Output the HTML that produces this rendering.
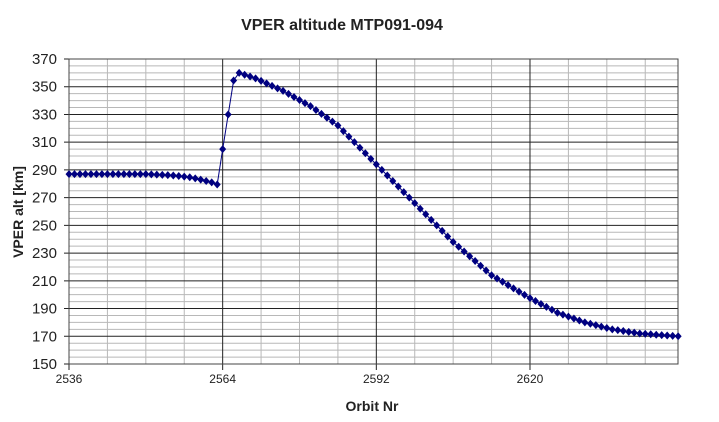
<!DOCTYPE html>
<html><head><meta charset="utf-8"><style>
html,body{margin:0;padding:0;background:#fff;width:719px;height:422px;overflow:hidden}
svg text{font-family:"Liberation Sans",Arial,sans-serif;fill:#222}
</style></head><body>
<svg id="s" width="719" height="422" xmlns="http://www.w3.org/2000/svg">
<text x="342" y="30" text-anchor="middle" font-size="16" font-weight="bold">VPER altitude MTP091-094</text>
<text x="372" y="411" text-anchor="middle" font-size="14" font-weight="bold">Orbit Nr</text>
<text transform="translate(23,212) rotate(-90)" text-anchor="middle" font-size="14" font-weight="bold">VPER alt [km]</text>
<g id="g"></g>
</svg>
<script>
var L=69,R=678,T=59,B=364;
function X(o){return L+(o-2536)*5.488;}
function Y(v){return T+(370-v)*(B-T)/220;}
var h='';
for(var v=150;v<=370;v+=5){var maj=(v-150)%20==0;
 if(!maj)h+='<line x1="'+L+'" x2="'+R+'" y1="'+Y(v)+'" y2="'+Y(v)+'" stroke="#b8b8b8" stroke-width="1"/>';}
for(var o=2543;o<2647;o+=7){if((o-2536)%28)h+='<line x1="'+X(o)+'" x2="'+X(o)+'" y1="'+T+'" y2="'+B+'" stroke="#b8b8b8" stroke-width="1"/>';}
for(var v=150;v<=370;v+=20){h+='<line x1="'+(L-5)+'" x2="'+R+'" y1="'+Y(v)+'" y2="'+Y(v)+'" stroke="#222" stroke-width="1"/>';
 h+='<text x="57" y="'+(Y(v)+5)+'" text-anchor="end" font-size="15">'+v+'</text>';}
for(var o=2536;o<2647;o+=28){h+='<line x1="'+X(o)+'" x2="'+X(o)+'" y1="'+T+'" y2="'+(B+6)+'" stroke="#222" stroke-width="1"/>';
 h+='<text x="'+X(o)+'" y="383" text-anchor="middle" font-size="12">'+o+'</text>';}
h+='<rect x="'+L+'" y="'+T+'" width="'+(R-L)+'" height="'+(B-T)+'" fill="none" stroke="#444"/>';
var A=[[2536,287],[2550,287],[2555,286],[2558,284.7],[2560,283],[2562,281],[2563,279.5],[2564,305],[2565,330],[2566,354.5],[2567,360],[2570,356],[2575,347],[2580,336],[2585,322],[2592,294],[2600,262],[2606,238],[2613,214],[2620,197.5],[2625,187],[2630,180],[2635,175],[2640,172],[2647,170]];
function val(o){for(var i=0;i<A.length-1;i++){if(o>=A[i][0]&&o<=A[i+1][0]){var t=(o-A[i][0])/(A[i+1][0]-A[i][0]);return A[i][1]+t*(A[i+1][1]-A[i][1]);}}return 170;}
var pts=[];for(var o=2536;o<=2647;o++)pts.push(X(o).toFixed(1)+','+Y(val(o)).toFixed(1));
h+='<polyline points="'+pts.join(' ')+'" fill="none" stroke="#000080" stroke-width="1"/>';
for(var o=2536;o<=2647;o++){var x=X(o),y=Y(val(o));
 h+='<polygon points="'+x+','+(y-4)+' '+(x+3.5)+','+y+' '+x+','+(y+4)+' '+(x-3.5)+','+y+'" fill="#000080"/>';}
document.getElementById('g').innerHTML=h;
</script>
</body></html>
